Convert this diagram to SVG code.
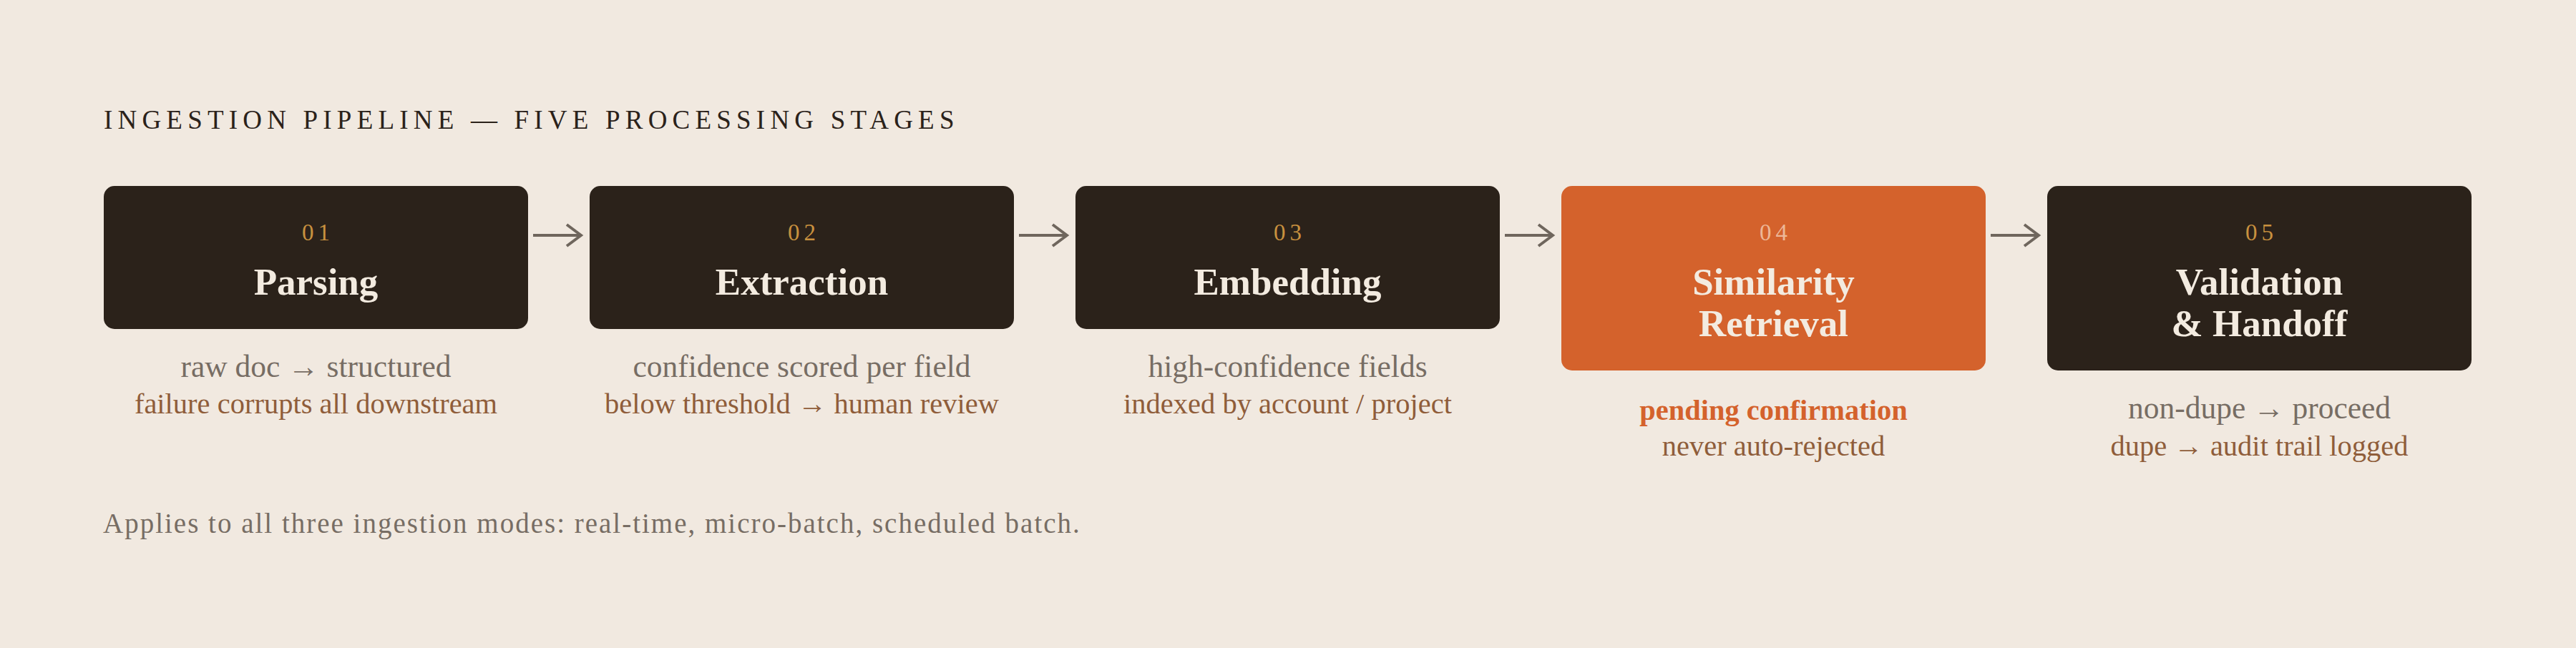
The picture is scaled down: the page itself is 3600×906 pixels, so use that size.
<svg xmlns="http://www.w3.org/2000/svg" width="3600" height="906" viewBox="0 0 3600 906">
<style>
.bg{fill:#F1E9E0}
.box{fill:#2B221A}
.hl{fill:#D4622C}
.num{font-family:"Liberation Serif",serif;font-size:33px;letter-spacing:6px;fill:#C8913F;text-anchor:middle}
.numhl{fill:#EDB797}
.ttl{font-family:"Liberation Serif",serif;font-weight:bold;font-size:53px;fill:#F3EBE0;text-anchor:middle}
.s1{font-family:"Liberation Serif",serif;font-size:43.5px;fill:#776D64;text-anchor:middle}
.s2{font-family:"Liberation Serif",serif;font-size:40.5px;fill:#8F5D3A;text-anchor:middle}
.s3{font-family:"Liberation Serif",serif;font-size:40.5px;font-weight:bold;fill:#D4622C;text-anchor:middle}
.hdr{font-family:"Liberation Serif",serif;font-size:37px;letter-spacing:7.2px;fill:#2B221A}
.ftr{font-family:"Liberation Serif",serif;font-size:39px;letter-spacing:2px;fill:#776D64}
.conn{stroke:#6F665D;stroke-width:4;fill:none}
</style>
<defs>
<marker id="arr" markerUnits="userSpaceOnUse" markerWidth="30" markerHeight="40" refX="22" refY="17" orient="auto">
<path d="M2 2 L22 17 L2 32" fill="none" stroke="#6F665D" stroke-width="4"/>
</marker>
</defs>
<rect class="bg" x="0" y="0" width="3600" height="906"/>
<text class="hdr" x="145" y="180">INGESTION PIPELINE — FIVE PROCESSING STAGES</text>

<g id="connectors">
<path class="conn" d="M745 329 H812" marker-end="url(#arr)"/>
<path class="conn" d="M1424 329 H1491" marker-end="url(#arr)"/>
<path class="conn" d="M2103 329 H2170" marker-end="url(#arr)"/>
<path class="conn" d="M2782 329 H2849" marker-end="url(#arr)"/>
</g>

<g id="stage1">
<rect class="box" x="145" y="260" width="593" height="200" rx="15"/>
<text class="num" x="444.5" y="336">01</text>
<text class="ttl" x="441.5" y="412">Parsing</text>
<text class="s1" x="441.5" y="527">raw doc → structured</text>
<text class="s2" x="441.5" y="578">failure corrupts all downstream</text>
</g>

<g id="stage2">
<rect class="box" x="824" y="260" width="593" height="200" rx="15"/>
<text class="num" x="1123.5" y="336">02</text>
<text class="ttl" x="1120.5" y="412">Extraction</text>
<text class="s1" x="1120.5" y="527">confidence scored per field</text>
<text class="s2" x="1120.5" y="578">below threshold → human review</text>
</g>

<g id="stage3">
<rect class="box" x="1503" y="260" width="593" height="200" rx="15"/>
<text class="num" x="1802.5" y="336">03</text>
<text class="ttl" x="1799.5" y="412">Embedding</text>
<text class="s1" x="1799.5" y="527">high-confidence fields</text>
<text class="s2" x="1799.5" y="578">indexed by account / project</text>
</g>

<g id="stage4">
<rect class="hl" x="2182" y="260" width="593" height="258" rx="15"/>
<text class="num numhl" x="2481.5" y="336">04</text>
<text class="ttl" x="2478.5" y="412">Similarity</text>
<text class="ttl" x="2478.5" y="470">Retrieval</text>
<text class="s3" x="2478.5" y="587">pending confirmation</text>
<text class="s2" x="2478.5" y="637">never auto-rejected</text>
</g>

<g id="stage5">
<rect class="box" x="2861" y="260" width="593" height="258" rx="15"/>
<text class="num" x="3160.5" y="336">05</text>
<text class="ttl" x="3157.5" y="412">Validation</text>
<text class="ttl" x="3157.5" y="470">&amp; Handoff</text>
<text class="s1" x="3157.5" y="585">non-dupe → proceed</text>
<text class="s2" x="3157.5" y="637">dupe → audit trail logged</text>
</g>

<text class="ftr" x="144" y="745">Applies to all three ingestion modes: real-time, micro-batch, scheduled batch.</text>
</svg>
